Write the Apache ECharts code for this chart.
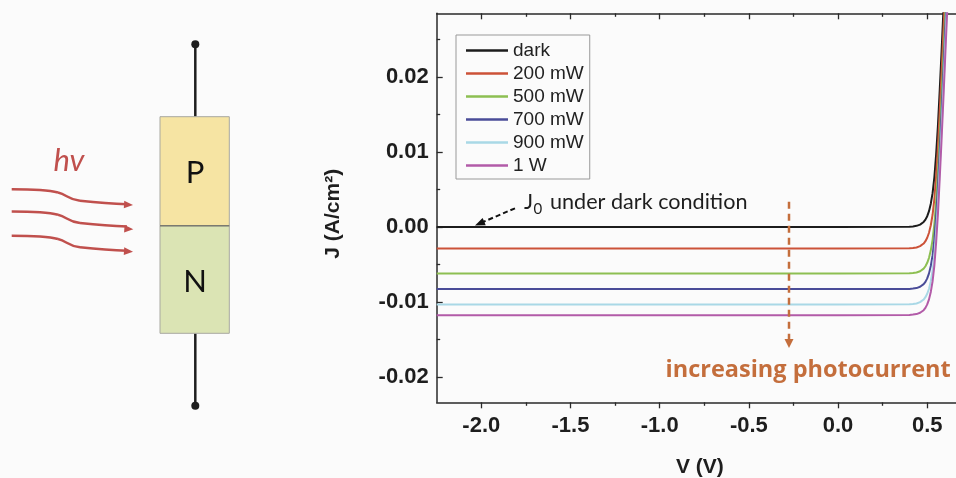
<!DOCTYPE html>
<html><head><meta charset="utf-8">
<script src="https://cdn.jsdelivr.net/npm/echarts@6/dist/echarts.min.js"></script>
<style>html,body{margin:0;padding:0;background:#fbfbfb}#c{width:956px;height:478px}</style>
</head><body><div id="c"></div>
<script>
// ---------------- data ----------------
const seriesNames = ['dark', '200 mW', '500 mW', '700 mW', '900 mW', '1 W'];
const seriesColors = ['#1c1c1c', '#cc5238', '#8dbf52', '#4a4c98', '#a9d8e6', '#b25ba8'];
const voltage = [-2.25, -2.0, -1.5, -1.0, -0.5, 0.0, 0.40, 0.41, 0.42, 0.43, 0.44, 0.45, 0.46, 0.47, 0.48, 0.49, 0.50, 0.51, 0.52, 0.53, 0.54, 0.55, 0.56, 0.57, 0.58, 0.59, 0.60, 0.61, 0.62];
const jDark  = [0, 0, 0, 0, 0, 0, 0.00003, 0.00004, 0.00007, 0.0001, 0.00014, 0.00021, 0.00031, 0.00045, 0.00066, 0.00097, 0.00143, 0.0021, 0.0031, 0.0045, 0.0066, 0.0097, 0.0135, 0.0182, 0.0232, 0.0285, 0.0340, 0.0395, 0.0450];
const j200mW = [-0.00288, -0.00288, -0.00288, -0.00288, -0.00288, -0.00288, -0.00285, -0.00284, -0.00281, -0.00278, -0.00274, -0.00267, -0.00257, -0.00243, -0.00222, -0.00191, -0.00145, -0.00078, 0.00022, 0.00162, 0.00372, 0.00682, 0.01062, 0.01532, 0.02032, 0.02562, 0.03112, 0.0366, 0.0421];
const j500mW = [-0.00622, -0.00622, -0.00622, -0.00622, -0.00622, -0.00622, -0.00619, -0.00618, -0.00615, -0.00612, -0.00608, -0.00601, -0.00591, -0.00577, -0.00556, -0.00525, -0.00479, -0.00412, -0.00312, -0.00172, 0.00038, 0.00348, 0.00728, 0.01198, 0.01698, 0.02228, 0.02778, 0.03328, 0.03878];
const j700mW = [-0.0083, -0.0083, -0.0083, -0.0083, -0.0083, -0.0083, -0.00827, -0.00826, -0.00823, -0.0082, -0.00816, -0.00809, -0.00799, -0.00785, -0.00764, -0.00733, -0.00687, -0.0062, -0.0052, -0.0038, -0.0017, 0.0014, 0.0052, 0.0099, 0.0149, 0.0202, 0.0257, 0.0312, 0.0367];
const j900mW = [-0.01035, -0.01035, -0.01035, -0.01035, -0.01035, -0.01035, -0.01032, -0.01031, -0.01028, -0.01025, -0.01021, -0.01014, -0.01004, -0.0099, -0.00969, -0.00938, -0.00892, -0.00825, -0.00725, -0.00585, -0.00375, -0.00065, 0.00315, 0.00785, 0.01285, 0.01815, 0.02365, 0.02915, 0.03465];
const j1W    = [-0.01177, -0.01177, -0.01177, -0.01177, -0.01177, -0.01177, -0.01174, -0.01173, -0.0117, -0.01167, -0.01163, -0.01156, -0.01146, -0.01132, -0.01111, -0.0108, -0.01034, -0.00967, -0.00867, -0.00727, -0.00517, -0.00207, 0.00173, 0.00643, 0.01143, 0.01673, 0.02223, 0.02773, 0.03323];
const seriesValues = [jDark, j200mW, j500mW, j700mW, j900mW, j1W];

const xMajorTicks = [-2.0, -1.5, -1.0, -0.5, 0.0, 0.5];
const xMinorTicks = [-1.75, -1.25, -0.75, -0.25, 0.25];
const yMajorTicks = [-0.02, -0.01, 0.00, 0.01, 0.02];
const yMinorTicks = [-0.015, -0.005, 0.005, 0.015, 0.025];
const xRange = [-2.25, 0.7];
const yRange = [-0.0234, 0.0285];

// ---------------- chart ----------------
const chart = echarts.init(document.getElementById('c'), null, {renderer: 'canvas'});
const AX = '#2a2a2a';
const axisFont = {fontFamily: 'Liberation Sans', fontWeight: 'bold', fontSize: 22, color: '#1e1e1e'};

function xAx(pos, ticks, major, inside, showLine) {
  return {
    type: 'value', position: pos, min: xRange[0], max: xRange[1],
    axisLine: {show: showLine, onZero: false, lineStyle: {color: AX, width: 1.5}},
    axisTick: {show: true, inside: inside, length: major ? 6 : 3.5, customValues: ticks, lineStyle: {color: AX, width: 1.3}},
    axisLabel: (major && pos === 'bottom') ? Object.assign({show: true, customValues: ticks, margin: 13, formatter: v => v.toFixed(1)}, axisFont) : {show: false},
    splitLine: {show: false},
    name: (major && pos === 'bottom') ? 'V (V)' : '',
    nameLocation: 'middle', nameGap: 54,
    nameTextStyle: Object.assign({}, axisFont, {fontSize: 21})
  };
}
function yAx(ticks, major) {
  return {
    type: 'value', position: 'left', min: yRange[0], max: yRange[1],
    axisLine: {show: major, onZero: false, lineStyle: {color: AX, width: 1.5}},
    axisTick: {show: true, inside: true, length: major ? 6 : 3.5, customValues: ticks, lineStyle: {color: AX, width: 1.3}},
    axisLabel: major ? Object.assign({show: true, customValues: ticks, margin: 8, formatter: v => v.toFixed(2)}, axisFont) : {show: false},
    splitLine: {show: false},
    name: major ? 'J (A/cm²)' : '',
    nameLocation: 'middle', nameRotate: 90, nameGap: 93,
    nameTextStyle: Object.assign({}, axisFont, {fontSize: 21, padding: [0, 12, 0, 0]})
  };
}

const series = seriesNames.map((name, k) => ({
  name: name, type: 'line', xAxisIndex: 0, yAxisIndex: 0,
  data: voltage.map((v, i) => [v, seriesValues[k][i]]),
  showSymbol: false, symbol: 'none', clip: true,
  color: seriesColors[k],
  lineStyle: {width: 2, color: seriesColors[k]},
  z: 2 + k
}));

function arrowHead(tx, ty, fx, fy, len, hw, color) {
  const dx = tx - fx, dy = ty - fy, L = Math.hypot(dx, dy);
  const ux = dx / L, uy = dy / L;
  const bx = tx - ux * len, by = ty - uy * len;
  return {type: 'polygon', z: 100, shape: {points: [[tx, ty], [bx - uy * hw, by + ux * hw], [bx + uy * hw, by - ux * hw]]}, style: {fill: color}};
}

const RED = '#c0504d';
const ORANGE = '#c46e3c';
function bez(x1, y1, c1x, c1y, c2x, c2y, x2, y2, color) {
  return {type: 'bezierCurve', z: 100, shape: {x1: x1, y1: y1, cpx1: c1x, cpy1: c1y, cpx2: c2x, cpy2: c2y, x2: x2, y2: y2},
    style: {fill: null, stroke: color, lineWidth: 2.5}};
}
function wave(dy) {
  return [
    bez(11.7, 189.3 + dy, 30, 189.3 + dy, 48, 190 + dy, 58, 192.5 + dy, RED),
    bez(58, 192.5 + dy, 67, 194.5 + dy, 68, 199.5 + dy, 80, 200.8 + dy, RED),
    bez(80, 200.8 + dy, 95, 202.3 + dy, 110, 203.6 + dy, 127, 204.3 + dy, RED)
  ];
}

const graphics = [
  // PN junction diagram
  {type: 'line', z: 100, shape: {x1: 195.3, y1: 44.3, x2: 195.3, y2: 116.7}, style: {stroke: '#1e1e1e', lineWidth: 2.5}},
  {type: 'circle', z: 100, shape: {cx: 195.3, cy: 44.3, r: 4}, style: {fill: '#1e1e1e'}},
  {type: 'line', z: 100, shape: {x1: 195.3, y1: 333.3, x2: 195.3, y2: 405.7}, style: {stroke: '#1e1e1e', lineWidth: 2.5}},
  {type: 'circle', z: 100, shape: {cx: 195.3, cy: 405.7, r: 4}, style: {fill: '#1e1e1e'}},
  {type: 'rect', z: 100, shape: {x: 160, y: 116.7, width: 69.3, height: 109}, style: {fill: '#f6e4a3', stroke: '#a8a8a0', lineWidth: 1}},
  {type: 'rect', z: 100, shape: {x: 160, y: 225.7, width: 69.3, height: 107.6}, style: {fill: '#dbe4b4', stroke: '#a8a8a0', lineWidth: 1}},
  {type: 'line', z: 101, shape: {x1: 160, y1: 225.7, x2: 229.3, y2: 225.7}, style: {stroke: '#7a7a70', lineWidth: 1.5}},
  {type: 'text', z: 101, style: {text: 'P', x: 195, y: 173, align: 'center', verticalAlign: 'middle', font: '31px Lato', fill: '#111'}},
  {type: 'text', z: 101, style: {text: 'N', x: 195, y: 281.5, align: 'center', verticalAlign: 'middle', font: '31px Lato', fill: '#111'}},
  {type: 'text', z: 101, style: {text: 'hv', x: 69, y: 161, align: 'center', verticalAlign: 'middle', font: 'italic 31px Lato', fill: RED}},
  ...wave(0), ...wave(22.3), ...wave(46.5),
  arrowHead(133, 205, 120, 204.2, 9, 3.8, RED),
  arrowHead(133.3, 229.3, 120, 228.5, 9, 3.8, RED),
  arrowHead(133, 251.7, 120, 250.9, 9, 3.8, RED),
  // J0 annotation
  {type: 'line', z: 100, shape: {x1: 515, y1: 208.3, x2: 483, y2: 222}, style: {stroke: '#111', lineWidth: 2, lineDash: [5, 3]}},
  arrowHead(475, 225.5, 515, 208.3, 10, 4, '#111'),
  {type: 'text', z: 101, style: {text: 'J', x: 524, y: 202, verticalAlign: 'middle', font: '21.5px Lato', fill: '#1e1e1e'}},
  {type: 'text', z: 101, style: {text: '0', x: 533.5, y: 209, verticalAlign: 'middle', font: '15px Lato', fill: '#1e1e1e'}},
  {type: 'text', z: 101, style: {text: 'under dark condition', x: 550, y: 202, verticalAlign: 'middle', font: '21.6px Lato', fill: '#1e1e1e'}},
  // increasing photocurrent arrow
  {type: 'line', z: 100, shape: {x1: 789, y1: 201.7, x2: 789, y2: 340}, style: {stroke: ORANGE, lineWidth: 2.5, lineDash: [7, 5]}},
  arrowHead(789, 348, 789, 300, 9, 4.5, ORANGE),
  {type: 'text', z: 101, style: {text: 'increasing photocurrent', x: 950.7, y: 370, align: 'right', verticalAlign: 'middle', font: 'bold 23.5px "Open Sans"', fill: ORANGE}}
];

chart.setOption({
  animation: false,
  backgroundColor: '#fbfbfb',
  grid: {left: 436.7, top: 13.3, right: -6.9, bottom: 75.7, containLabel: false, outerBoundsMode: 'none'},
  legend: {
    data: seriesNames, orient: 'vertical', left: 456, top: 35,
    icon: 'rect', itemWidth: 42, itemHeight: 2.5, itemGap: 4,
    padding: [6, 6, 4, 10], borderColor: '#999', borderWidth: 1,
    textStyle: {fontFamily: 'Liberation Sans', fontSize: 19, color: '#222', lineHeight: 19}
  },
  xAxis: [
    xAx('bottom', xMajorTicks, true, false, true),
    xAx('bottom', xMinorTicks, false, false, false),
    xAx('top', xMajorTicks, true, true, true),
    xAx('top', xMinorTicks, false, true, false)
  ],
  yAxis: [yAx(yMajorTicks, true), yAx(yMinorTicks, false)],
  series: series,
  graphic: graphics
});
</script></body></html>
